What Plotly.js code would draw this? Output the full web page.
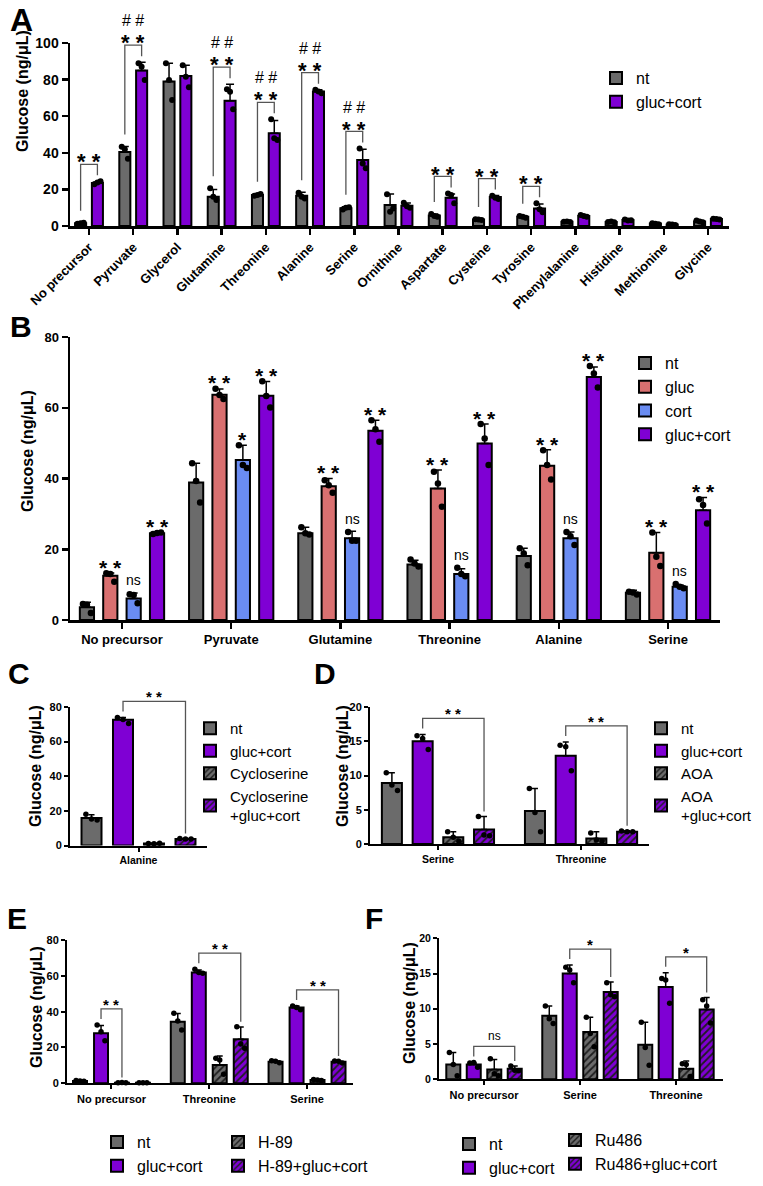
<!DOCTYPE html>
<html><head><meta charset="utf-8">
<script src="https://cdn.plot.ly/plotly-3.0.1.min.js"></script>
<style>html,body{margin:0;padding:0;background:#fff;}#chart{width:763px;height:1186px;}</style>
</head><body><div id="chart"></div>
<script>
// ---------------- DATA ----------------
// Panel A
const catsA = ['No precursor','Pyruvate','Glycerol','Glutamine','Threonine','Alanine','Serine','Ornithine','Aspartate','Cysteine','Tyrosine','Phenylalanine','Histidine','Methionine','Glycine'];
const A_nt = [1.5,40.5,79,16,17,16.5,9.7,11.5,5.7,3.5,5,2.3,2.2,1.3,2.5];
const A_nt_sd = [0.3,3,10,4,0.6,2,0.8,6,0.8,0.3,0.6,0.2,0.2,0.2,0.5];
const A_nt_pts = [[1.2,1.5,1.8],[43.3,42,36.7],[88.9,79.8,68.9],[20.6,16,14.2],[16.5,17,17.5],[18.2,16,15],[9,10,10.3],[17.3,7.8,9.6],[6.5,5.5,5],[3.7,3.5,3.3],[5.5,5,4.5],[2.3,2.5,2.2],[2.2,2.4,2],[1.5,1.2,1],[3,2.5,2]];
const A_gc = [23.5,85,82,68.5,50.7,73.5,36,11,15.5,15.8,9.6,5.5,3.3,0.8,3.8];
const A_gc_sd = [0.6,4.5,5.9,9,7,1,6,1.5,2,0.8,2.4,0.6,0.3,0.2,0.3];
const A_gc_pts = [[22.8,23.8,24.4],[88.9,87,79.8],[87.9,81.6,75.8],[74.7,73.4,63.8],[58.3,47.9,47],[74.5,73.5,72.5],[42.4,34.2,31.5],[12.7,10.8,10],[17.8,17,12.4],[16.5,15.5,14.8],[12.4,9.1,7.5],[6,5.5,5],[3.5,3,3.2],[1,0.8,0.6],[4,3.8,3.5]];
const A_star = ['**','**','','**','**','**','**','','**','**','**','','','',''];
const A_hash = ['','##','','##','##','##','##','','','','','','','',''];

// Panel B
const catsB = ['No precursor','Pyruvate','Glutamine','Threonine','Alanine','Serine'];
const B_nt = [3.6,38.9,24.5,15.7,18.1,7.7];
const B_nt_sd = [1.4,5.4,1.7,1.2,2.2,0.7];
const B_nt_pts = [[4.5,4.3,2.0],[44.3,39.3,33.2],[26.2,24.5,24.2],[17.1,16,15.1],[20.3,18.8,15.5],[8,7.8,7.2]];
const B_gl = [12.5,63.7,37.8,37.2,43.6,19];
const B_gl_sd = [0.8,1.6,2.2,5.2,4.5,5.7];
const B_gl_pts = [[13.2,13,10.8],[65.4,63.6,62.5],[39.5,38.1,36],[41.9,38.6,32],[48,43.8,39.7],[24.7,17.9,15.3]];
const B_co = [6.1,45.2,23.1,13,23.1,9.4];
const B_co_sd = [1.5,4.2,2,1.5,1.8,0.5];
const B_co_pts = [[7.3,7.1,4.7],[49.4,43.8,43],[24.9,22.4,22.4],[14.8,13,12.4],[24.9,23.7,21.2],[10.2,9.4,9]];
const B_gc = [24.5,63.4,53.5,49.9,68.7,31];
const B_gc_sd = [0.3,4,3,5.5,2.8,3.6];
const B_gc_pts = [[24.3,24.6,24.7],[67.5,63.3,60.1],[56.5,53.9,50.4],[55.4,51.3,43.8],[71.8,69.7,65.7],[34.1,32.5,27.3]];
const B_sig_gl = ['**','**','**','**','**','**'];
const B_sig_co = ['ns','*','ns','ns','ns','ns'];
const B_sig_gc = ['**','**','**','**','**','**'];

// Panel C
const catsC = ['Alanine'];
const C_nt = [15.9], C_nt_sd = [1.8], C_nt_pts = [[18,15.3,14.7]];
const C_gc = [72.7], C_gc_sd = [1.2], C_gc_pts = [[74,72.8,70.5]];
const C_cy = [1.1], C_cy_sd = [0.15], C_cy_pts = [[1.2,1.0,1.3]];
const C_cg = [3.8], C_cg_sd = [0.2], C_cg_pts = [[4,3.8,3.7]];
const C_sig = ['**'], C_sigTo = [3];

// Panel D
const catsD = ['Serine','Threonine'];
const D_nt = [8.9,4.8], D_nt_sd = [1.5,3.3], D_nt_pts = [[10.4,8.6,7.8],[8.1,4.6,1.8]];
const D_gc = [15,12.9], D_gc_sd = [1,2], D_gc_pts = [[15.8,15.4,13.8],[14.4,14.2,10.7]];
const D_ao = [1.0,0.8], D_ao_sd = [0.8,1], D_ao_pts = [[1.8,1.0,0.4],[1.6,0.6,0.4]];
const D_ag = [2.1,1.8], D_ag_sd = [1.9,0.15], D_ag_pts = [[4.0,1.3,1.2],[1.9,1.8,1.8]];
const D_sig = ['**','**'], D_sigTo = [3,3];

// Panel E
const catsE = ['No precursor','Threonine','Serine'];
const E_nt = [1.3,34.4,12.1], E_nt_sd = [0.2,4.5,0.5], E_nt_pts = [[1.5,1.3,1.2],[39.1,34.8,29.8],[12.6,12.3,11.5]];
const E_gc = [27.9,61.8,42.3], E_gc_sd = [4.3,1.5,0.8], E_gc_pts = [[32.6,28.8,23.8],[63.7,61.8,61.5],[43.2,42.3,41]];
const E_h = [0.3,10.2,1.8], E_h_sd = [0.1,5,0.3], E_h_pts = [[0.3,0.4,0.3],[14,13,5],[2.1,1.8,1.5]];
const E_hg = [0.3,24.6,12], E_hg_sd = [0.1,6.8,0.5], E_hg_pts = [[0.3,0.3,0.3],[31.6,22,19.6],[12.5,12.3,11.4]];
const E_sig = ['**','**','**'], E_sigTo = [2,3,3];

// Panel F
const catsF = ['No precursor','Serine','Threonine'];
const F_nt = [2.1,9,4.9], F_nt_sd = [1.7,1.4,3.2], F_nt_pts = [[3.8,2.1,0.5],[10.4,8.6,7.9],[8.1,4.5,2]];
const F_gc = [2.1,15,13.1], F_gc_sd = [0.2,1.2,2], F_gc_pts = [[2.3,2.4,1.7],[15.9,15.5,13.7],[14.3,14.1,10.8]];
const F_ru = [1.4,6.7,1.5], F_ru_sd = [1.4,2.1,1.1], F_ru_pts = [[2.9,0.8,0.5],[8.8,6.5,4.6],[2.2,2.1,0.4]];
const F_rg = [1.5,12.4,9.9], F_rg_sd = [0.4,1.4,1.7], F_rg_pts = [[1.9,1.3,1.2],[13.7,12,11.7],[11.3,10.4,8]];
const F_sig = ['ns','*','*'], F_sigTo = [3,3,3];

// ---------------- STYLE / LAYOUT ----------------
const W = 763, H = 1186;
const FONT = 'Liberation Sans, Arial, Helvetica, sans-serif';
const GREY = '#6b6b6b', PURPLE = '#7f00d4', RED = '#d97070', BLUE = '#6a8cf2';
const JIT = [-0.28, 0, 0.28];

const traces = [], shapes = [], annotations = [];
const layout = {width:W, height:H, margin:{l:0,r:0,t:0,b:0}, paper_bgcolor:'#fff', plot_bgcolor:'rgba(0,0,0,0)',
  barmode:'overlay', showlegend:true, font:{family:FONT, color:'#000'}, shapes:shapes, annotations:annotations};

const G = {
  A:{id:'',  left:70,  right:729, top:43,    bottom:226,    xr:[-0.43,14.475], yr:[0,100], dtick:20},
  B:{id:'2', left:70,  right:720, top:337,   bottom:620,    xr:[-0.476,5.476], yr:[0,80], dtick:20},
  C:{id:'3', left:70,  right:207, top:707,   bottom:845.5,  xr:[-0.5,0.5],     yr:[0,80], dtick:20},
  D:{id:'4', left:370, right:649, top:707,   bottom:844,    xr:[-0.475,1.475], yr:[0,20], dtick:5},
  E:{id:'5', left:67,  right:353, top:940,   bottom:1083.3, xr:[-0.455,2.47],  yr:[0,80], dtick:20},
  F:{id:'6', left:439, right:723, top:938.3, bottom:1079.3, xr:[-0.469,2.49],  yr:[0,20], dtick:5}
};
function upp(g){ return (g.yr[1]-g.yr[0])/(g.bottom-g.top); } // data units per px
function toPX(g, x){ return (g.left + (x-g.xr[0])/(g.xr[1]-g.xr[0])*(g.right-g.left))/W; }
function toPY(g, y){ return 1 - (g.bottom - (y-g.yr[0])/(g.yr[1]-g.yr[0])*(g.bottom-g.top))/H; }

function setupAxes(g, cats, o){
  const n = g.id;
  layout['xaxis'+n] = {domain:[g.left/W, g.right/W], anchor:'y'+n, range:g.xr, tickmode:'array',
    tickvals:cats.map((c,i)=>i), ticktext:cats, tickangle:o.angle||0, showline:true, linecolor:'#000',
    linewidth:o.lw, ticks:'outside', ticklen:o.tl, tickwidth:o.lw, tickcolor:'#000', showgrid:false, zeroline:false,
    tickfont:{family:FONT, size:o.xfs, color:'#000', weight:'bold'}, fixedrange:true, automargin:false};
  layout['yaxis'+n] = {domain:[1-g.bottom/H, 1-g.top/H], anchor:'x'+n, range:g.yr, tick0:0, dtick:g.dtick,
    showline:true, linecolor:'#000', linewidth:o.lw, ticks:'outside', ticklen:o.tl, tickwidth:o.lw, tickcolor:'#000',
    showgrid:false, zeroline:false, tickfont:{family:FONT, size:o.yfs, color:'#000', weight:'bold'}, fixedrange:true, automargin:false};
}

function addSeries(g, cats, series, offsets, width, dot, ebw){
  const xa = 'x'+g.id, ya = 'y'+g.id;
  series.forEach((s, si) => {
    const marker = {color:s.color, line:{color:'#000', width:2}};
    if (s.hatch) marker.pattern = {shape:'/', fillmode:'replace', bgcolor:s.color, fgcolor:'#1e1e1e', size:5, solidity:0.35};
    traces.push({type:'bar', x:cats.map((c,i)=>i+offsets[si]), y:s.vals, width:width, xaxis:xa, yaxis:ya,
      name:s.name, legend:s.legend, showlegend:true, marker:marker,
      error_y:{type:'data', symmetric:false, array:s.sd, arrayminus:s.sd.map(()=>0), color:'#000', thickness:1.5, width:ebw},
      cliponaxis:false, hoverinfo:'skip'});
  });
  series.forEach((s, si) => {
    const px = [], py = [];
    s.pts.forEach((arr,i)=>arr.forEach((v,j)=>{ px.push(i+offsets[si]+JIT[j]*width); py.push(v); }));
    traces.push({type:'scatter', mode:'markers', x:px, y:py, xaxis:xa, yaxis:ya, marker:{color:'#000', size:dot},
      showlegend:false, cliponaxis:false, hoverinfo:'skip'});
  });
}

// significance text: centre of glyphs placed pxUp pixels above data value y
function sigText(g, x, y, text, fs, pxUp){
  const isNs = text==='ns';
  const disp = isNs ? 'ns' : text.split('').join(' ');
  const star = text.indexOf('*')>=0;
  const corr = star ? -0.30*fs : (isNs ? 0.12*fs : 0.02*fs);
  const yp = toPY(g, y) + (pxUp + corr)/H;
  annotations.push({xref:'paper', yref:'paper', x:toPX(g,x), y:yp, text:disp, showarrow:false, xanchor:'center', yanchor:'middle',
    font:{family:FONT, size:fs, color:'#000', weight: star ? 'bold' : 'normal'}});
}
function bracket(g, x1, yl, ytop, x2, yr){
  const X1 = toPX(g,x1), X2 = toPX(g,x2);
  shapes.push({type:'path', xref:'paper', yref:'paper',
    path:`M${X1},${toPY(g,yl)} L${X1},${toPY(g,ytop)} L${X2},${toPY(g,ytop)} L${X2},${toPY(g,yr)}`,
    line:{color:'#555', width:1.3}});
}
function topOf(vals, sd, pts, i){ return Math.max(vals[i]+sd[i], Math.max(...pts[i])); }

function legendCfg(xpx, ypx, fs){
  return {x:xpx/W, y:1-ypx/H, xanchor:'left', yanchor:'top', bgcolor:'rgba(0,0,0,0)', borderwidth:0,
    font:{family:FONT, size:fs, color:'#000'}, tracegroupgap:0, traceorder:'normal', itemclick:false, itemdoubleclick:false};
}

// ---------- Panel A ----------
setupAxes(G.A, catsA, {angle:-45, lw:2.5, tl:6, xfs:13, yfs:14});
const offA = [-0.19, 0.19];
addSeries(G.A, catsA, [
  {name:'nt', color:GREY, vals:A_nt, sd:A_nt_sd, pts:A_nt_pts, legend:'legend'},
  {name:'gluc+cort', color:PURPLE, vals:A_gc, sd:A_gc_sd, pts:A_gc_pts, legend:'legend'}
], offA, 0.25, 6, 4);
(function(){
  const u = upp(G.A);
  catsA.forEach((c,i)=>{
    if (!A_star[i]) return;
    const ntTop = topOf(A_nt, A_nt_sd, A_nt_pts, i), gcTop = topOf(A_gc, A_gc_sd, A_gc_pts, i);
    const top = gcTop + 17*u;
    bracket(G.A, i+offA[0], ntTop + 12*u, top, i+offA[1], gcTop + 6*u);
    sigText(G.A, (2*i+offA[0]+offA[1])/2, top, A_star[i], 22, 9);
    if (A_hash[i]) sigText(G.A, (2*i+offA[0]+offA[1])/2, top, A_hash[i], 16, 24);
  });
})();
layout.legend = legendCfg(596, 61, 16);

// ---------- Panel B ----------
setupAxes(G.B, catsB, {lw:2.5, tl:6, xfs:13, yfs:13});
const offB = [-0.321, -0.107, 0.107, 0.321];
addSeries(G.B, catsB, [
  {name:'nt', color:GREY, vals:B_nt, sd:B_nt_sd, pts:B_nt_pts, legend:'legend2'},
  {name:'gluc', color:RED, vals:B_gl, sd:B_gl_sd, pts:B_gl_pts, legend:'legend2'},
  {name:'cort', color:BLUE, vals:B_co, sd:B_co_sd, pts:B_co_pts, legend:'legend2'},
  {name:'gluc+cort', color:PURPLE, vals:B_gc, sd:B_gc_sd, pts:B_gc_pts, legend:'legend2'}
], offB, 0.13, 6.5, 4);
catsB.forEach((c,i)=>{
  sigText(G.B, i+offB[1], topOf(B_gl,B_gl_sd,B_gl_pts,i), B_sig_gl[i], 21, 12);
  sigText(G.B, i+offB[2], topOf(B_co,B_co_sd,B_co_pts,i), B_sig_co[i], B_sig_co[i]==='ns'?14:21, B_sig_co[i]==='ns'?11:12);
  sigText(G.B, i+offB[3], topOf(B_gc,B_gc_sd,B_gc_pts,i), B_sig_gc[i], 21, 12);
});
layout.legend2 = legendCfg(625, 346, 16);

// ---------- Panels C-F helper ----------
function smallPanel(g, cats, series, offsets, width, sig, sigTo){
  addSeries(g, cats, series, offsets, width, 5.5, 3);
  const u = upp(g);
  cats.forEach((c,i)=>{
    const s1 = series[1], s2 = series[sigTo[i]];
    const t1 = topOf(s1.vals, s1.sd, s1.pts, i), t2 = topOf(s2.vals, s2.sd, s2.pts, i);
    const top = Math.max(t1, t2) + 16*u;
    bracket(g, i+offsets[1], t1 + 6*u, top, i+offsets[sigTo[i]], t2 + 5*u);
    sigText(g, i+(offsets[1]+offsets[sigTo[i]])/2, top, sig[i], sig[i]==='ns'?12:15, 9);
  });
}

// ---------- Panel C ----------
setupAxes(G.C, catsC, {lw:2, tl:4, xfs:10.5, yfs:11});
smallPanel(G.C, catsC, [
  {name:'nt', color:GREY, vals:C_nt, sd:C_nt_sd, pts:C_nt_pts, legend:'legend3'},
  {name:'gluc+cort', color:PURPLE, vals:C_gc, sd:C_gc_sd, pts:C_gc_pts, legend:'legend3'},
  {name:'Cycloserine', color:GREY, hatch:true, vals:C_cy, sd:C_cy_sd, pts:C_cy_pts, legend:'legend3'},
  {name:'Cycloserine<br>+gluc+cort', color:PURPLE, hatch:true, vals:C_cg, sd:C_cg_sd, pts:C_cg_pts, legend:'legend3'}
], [-0.343,-0.113,0.113,0.343], 0.146, C_sig, C_sigTo);
layout.legend3 = legendCfg(190, 712, 15);

// ---------- Panel D ----------
setupAxes(G.D, catsD, {lw:2, tl:4, xfs:10.5, yfs:11});
smallPanel(G.D, catsD, [
  {name:'nt', color:GREY, vals:D_nt, sd:D_nt_sd, pts:D_nt_pts, legend:'legend4'},
  {name:'gluc+cort', color:PURPLE, vals:D_gc, sd:D_gc_sd, pts:D_gc_pts, legend:'legend4'},
  {name:'AOA', color:GREY, hatch:true, vals:D_ao, sd:D_ao_sd, pts:D_ao_pts, legend:'legend4'},
  {name:'AOA<br>+gluc+cort', color:PURPLE, hatch:true, vals:D_ag, sd:D_ag_sd, pts:D_ag_pts, legend:'legend4'}
], [-0.322,-0.107,0.107,0.322], 0.14, D_sig, D_sigTo);
layout.legend4 = legendCfg(641, 712, 15);

// ---------- Panel E ----------
setupAxes(G.E, catsE, {lw:2, tl:4, xfs:11, yfs:11});
smallPanel(G.E, catsE, [
  {name:'nt', color:GREY, vals:E_nt, sd:E_nt_sd, pts:E_nt_pts, legend:'legend5'},
  {name:'gluc+cort', color:PURPLE, vals:E_gc, sd:E_gc_sd, pts:E_gc_pts, legend:'legend5'},
  {name:'H-89', color:GREY, hatch:true, vals:E_h, sd:E_h_sd, pts:E_h_pts, legend:'legend6'},
  {name:'H-89+gluc+cort', color:PURPLE, hatch:true, vals:E_hg, sd:E_hg_sd, pts:E_hg_pts, legend:'legend6'}
], [-0.322,-0.107,0.107,0.322], 0.143, E_sig, E_sigTo);
layout.legend5 = legendCfg(97, 1125, 16);
layout.legend6 = legendCfg(218, 1125, 16);

// ---------- Panel F ----------
setupAxes(G.F, catsF, {lw:2, tl:4, xfs:11, yfs:10.5});
smallPanel(G.F, catsF, [
  {name:'nt', color:GREY, vals:F_nt, sd:F_nt_sd, pts:F_nt_pts, legend:'legend7'},
  {name:'gluc+cort', color:PURPLE, vals:F_gc, sd:F_gc_sd, pts:F_gc_pts, legend:'legend7'},
  {name:'Ru486', color:GREY, hatch:true, vals:F_ru, sd:F_ru_sd, pts:F_ru_pts, legend:'legend8'},
  {name:'Ru486+gluc+cort', color:PURPLE, hatch:true, vals:F_rg, sd:F_rg_sd, pts:F_rg_pts, legend:'legend8'}
], [-0.32,-0.107,0.107,0.32], 0.146, F_sig, F_sigTo);
layout.legend7 = legendCfg(449, 1127, 16);
layout.legend8 = legendCfg(555, 1123, 16);

// ---------- Panel letters & y titles ----------
const letters = [['A',21,20,32],['B',21,327,30],['C',19,673,30],['D',325,673,30],['E',17,918,30],['F',374,918,30]];
letters.forEach(l=>annotations.push({xref:'paper', yref:'paper', x:l[1]/W, y:1-l[2]/H, text:l[0], showarrow:false,
  xanchor:'center', yanchor:'middle', font:{family:FONT, size:l[3], color:'#000', weight:'bold'}}));
const ytitles = [[23,91],[27,451],[35,766],[342,766],[36,1007],[409,1003]];
ytitles.forEach(t=>annotations.push({xref:'paper', yref:'paper', x:t[0]/W, y:1-t[1]/H, text:'Glucose (ng/μL)', textangle:-90,
  showarrow:false, xanchor:'center', yanchor:'middle', font:{family:FONT, size:16, color:'#000', weight:'bold'}}));

Plotly.newPlot('chart', traces, layout, {displayModeBar:false, staticPlot:true});
</script></body></html>
